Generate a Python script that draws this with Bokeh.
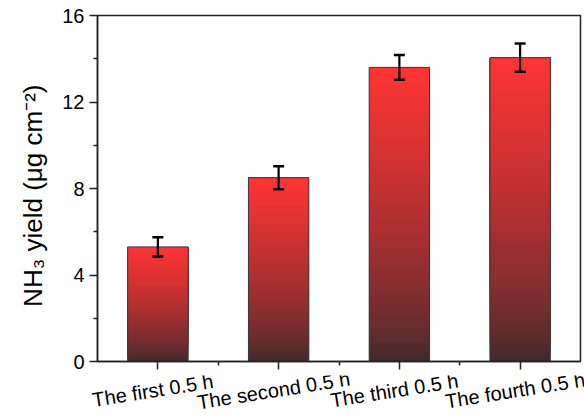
import numpy as np
from bokeh.plotting import figure
from bokeh.layouts import column
from bokeh.models import (Range1d, FixedTicker, ColumnDataSource, Whisker, TeeHead, Plot)
from bokeh.core.properties import value
from bokeh.embed import file_html
from bokeh.resources import INLINE

# ---- data ----
categories = ["The first 0.5 h", "The second 0.5 h", "The third 0.5 h", "The fourth 0.5 h"]
yield_vals = [5.3, 8.5, 13.6, 14.05]
yield_err = [0.45, 0.53, 0.57, 0.65]
y_ticks = [0, 4, 8, 12, 16]
y_minor = [2, 6, 10, 14]

FONT = "Liberation Sans"
top_rgb = np.array([255, 52, 52])
bot_rgb = np.array([58, 42, 44])
N = 80
bar_w = 0.5

W = 584
LEFT, RIGHT, TOP, BOTTOM = 97, 4, 15, 14
FRAME_H = 346
LABEL_H = 420 - (TOP + FRAME_H + BOTTOM)

xpos = np.arange(len(categories)) + 0.5
x0, x1 = 0, len(categories)

p = figure(width=W, height=TOP + FRAME_H + BOTTOM, output_backend="svg",
           toolbar_location=None,
           x_range=Range1d(x0, x1), y_range=Range1d(0, 16),
           min_border_left=LEFT, min_border_right=RIGHT, min_border_top=TOP,
           min_border_bottom=BOTTOM)
p.grid.visible = False
p.background_fill_color = "white"
p.border_fill_color = "white"
p.outline_line_color = "#222222"
p.outline_line_width = 1.5

# gradient bars: overlapping slices drawn bottom to top (no seams)
xs, bots, tops, cols = [], [], [], []
for x, v in zip(xpos, yield_vals):
    for k in range(N):
        t = (k + 0.5) / N
        f = t ** 0.7
        c = bot_rgb + (top_rgb - bot_rgb) * f
        xs.append(x)
        bots.append(v * k / N)
        tops.append(v)
        cols.append("#%02x%02x%02x" % tuple(int(round(u)) for u in c))
p.vbar(x=xs, bottom=bots, top=tops, width=bar_w, fill_color=cols, line_color=None)
# outlines
p.vbar(x=xpos, top=yield_vals, bottom=0, width=bar_w, fill_alpha=0,
       line_color="#3a3a3a", line_width=1)

# error bars
esrc = ColumnDataSource(dict(x=xpos,
                             upper=np.array(yield_vals) + np.array(yield_err),
                             lower=np.array(yield_vals) - np.array(yield_err)))
wh = Whisker(source=esrc, base="x", upper="upper", lower="lower",
             line_color="black", line_width=2.2, level="annotation",
             upper_head=TeeHead(size=11, line_width=2.5, line_color="black"),
             lower_head=TeeHead(size=11, line_width=2.5, line_color="black"))
p.add_layout(wh)

# axes
ya = p.yaxis[0]
ya.ticker = FixedTicker(ticks=y_ticks, minor_ticks=y_minor)
ya.axis_label = "NH\u2083 yield (\u03bcg cm\u207b\u00b2)\u00a0\u00a0"
ya.axis_label_text_font = FONT
ya.axis_label_text_font_size = "26px"
ya.axis_label_text_font_style = "normal"
ya.axis_label_text_color = "black"
ya.axis_label_standoff = 11
ya.major_label_text_font = FONT
ya.major_label_text_font_size = "20px"
ya.major_label_text_color = "black"
ya.major_label_standoff = 5
ya.major_tick_out = 8
ya.major_tick_in = 0
ya.minor_tick_out = 4
ya.minor_tick_in = 0
ya.axis_line_width = 1.5
ya.axis_line_color = "#222222"
ya.major_tick_line_width = 1.5
ya.minor_tick_line_width = 1.5
ya.major_tick_line_color = "#222222"
ya.minor_tick_line_color = "#222222"

xa = p.xaxis[0]
xa.ticker = FixedTicker(ticks=list(xpos), minor_ticks=list(np.arange(1, len(categories))))
xa.major_label_text_font_size = "0px"
xa.major_label_standoff = 0
xa.major_tick_out = 8
xa.major_tick_in = 0
xa.minor_tick_out = 4
xa.minor_tick_in = 0
xa.axis_line_width = 1.5
xa.axis_line_color = "#222222"
xa.major_tick_line_width = 1.5
xa.minor_tick_line_width = 1.5
xa.major_tick_line_color = "#222222"
xa.minor_tick_line_color = "#222222"

# strip below the plot carrying the rotated category labels (same x mapping)
can_unalign = "frame_align" in Plot.properties()
if can_unalign:
    px_per_unit = (W - LEFT - RIGHT) / (x1 - x0)
    x_rng2 = Range1d(x0 - LEFT / px_per_unit, x1 + RIGHT / px_per_unit)
else:
    x_rng2 = Range1d(x0, x1)
p2 = figure(width=W, height=LABEL_H, output_backend="svg", toolbar_location=None,
            x_range=x_rng2, y_range=Range1d(0, 1), min_border=0,
            x_axis_location=None, y_axis_location=None)
if can_unalign:
    p2.frame_align = False
p2.grid.visible = False
p2.outline_line_color = None
p2.background_fill_color = "white"
p2.border_fill_color = "white"
lsrc = ColumnDataSource(dict(x=xpos, y=[1] * len(categories), text=categories))
p2.text(x="x", y="y", text="text", source=lsrc, angle=0.157, x_offset=-5,
        y_offset=15, text_align="center", text_baseline="middle",
        text_font=value(FONT), text_font_size="20px", text_color="black")

layout = column(p, p2, spacing=0)
open("out.html", "w").write(file_html(layout, INLINE))
